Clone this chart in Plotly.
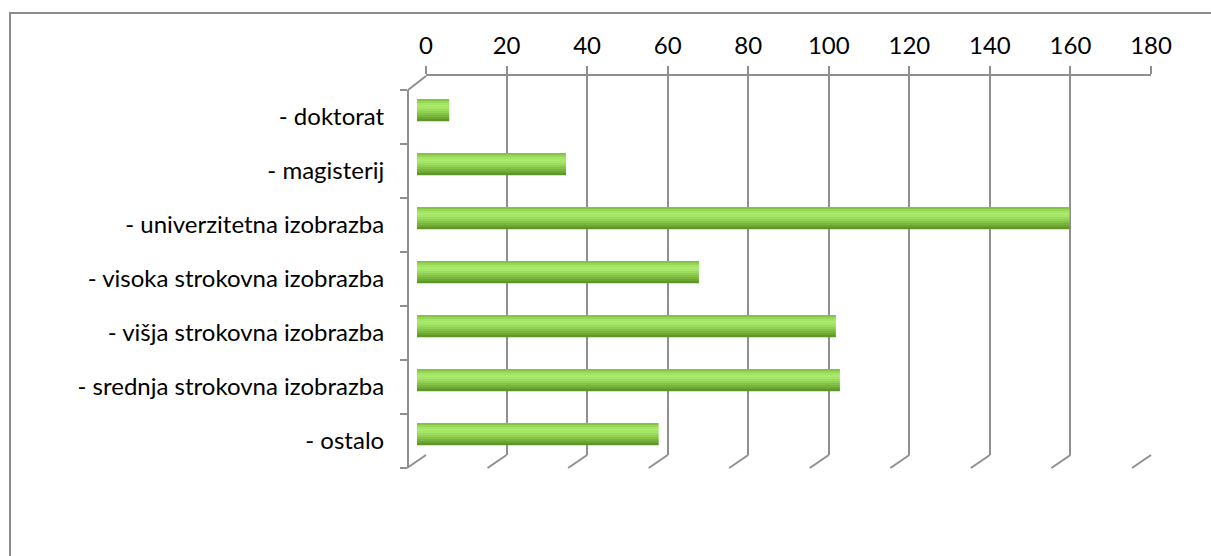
import plotly.graph_objects as go

W, H = 1211, 556

categories = ["- doktorat", "- magisterij", "- univerzitetna izobrazba",
              "- visoka strokovna izobrazba", "- višja strokovna izobrazba",
              "- srednja strokovna izobrazba", "- ostalo"]
values = [8, 37, 162, 70, 104, 105, 60]
tick_values = [0, 20, 40, 60, 80, 100, 120, 140, 160, 180]
tick_labels = [str(v) for v in tick_values]

FONT = "Lato"
GRID = "#8f8f8f"
# vertical shading of the cylinder, top to bottom
shade = ["#84c444", "#96d756", "#a3e465", "#a9ea6c", "#a5e668", "#9bdc5e",
         "#90d052", "#85c347", "#7ab63d", "#6ea834", "#5f962b"]

def px(x):
    return x / W

def py(y):
    return 1 - y / H

pos = list(range(len(categories)))

fig = go.Figure()

bar_w = 0.41
slice_w = bar_w / len(shade)
for i, c in enumerate(shade):
    fig.add_trace(go.Bar(y=pos, x=values, orientation="h", xaxis="x2", yaxis="y3",
                         width=slice_w * 1.05, offset=-bar_w / 2 + i * slice_w,
                         marker=dict(color=c, line=dict(width=0)),
                         hoverinfo="x+y" if i == 3 else "skip", showlegend=False))
# dummy traces so that the grid axes and the label axis get drawn
fig.add_trace(go.Scatter(x=[None], y=[None], xaxis="x", yaxis="y2", showlegend=False,
                         hoverinfo="skip"))
fig.add_trace(go.Scatter(x=[None], y=[None], xaxis="x2", yaxis="y", showlegend=False,
                         hoverinfo="skip"))

shapes = []
shapes.append(dict(type="rect", xref="paper", yref="paper",
                   x0=px(10), y0=py(13), x1=1.2, y1=-0.2,
                   line=dict(color="#8c8c8c", width=2), layer="below"))
shapes.append(dict(type="line", xref="paper", yref="paper",
                   x0=px(408), y0=py(90), x1=px(426), y1=py(76),
                   line=dict(color=GRID, width=2)))
for v in tick_values:
    xb = 426 + v * (1151 - 426) / 180
    shapes.append(dict(type="line", xref="paper", yref="paper",
                       x0=px(xb), y0=py(455), x1=px(xb - 19), y1=py(468),
                       line=dict(color=GRID, width=2)))

fig.update_layout(
    template="none",
    width=W, height=H,
    margin=dict(l=0, r=0, t=0, b=0, autoexpand=False),
    paper_bgcolor="white", plot_bgcolor="rgba(0,0,0,0)",
    barmode="overlay",
    font=dict(family=FONT, size=24, color="#000000"),
    shapes=shapes,
    xaxis=dict(domain=[px(426), px(1151)], range=[0, 180], side="top", anchor="y2",
               tickvals=tick_values, ticktext=tick_labels, automargin=False,
               showgrid=True, gridcolor=GRID, gridwidth=2,
               ticks="outside", ticklen=8, tickwidth=2, tickcolor=GRID,
               showline=True, linecolor=GRID, linewidth=2,
               zeroline=False, tickfont=dict(family=FONT, size=24),
               ticklabelstandoff=2, fixedrange=True),
    yaxis2=dict(domain=[py(455), py(76)], range=[0, 1], visible=False, anchor="x",
                automargin=False, fixedrange=True),
    xaxis2=dict(domain=[px(417), px(417 + 725)], range=[0, 180],
                visible=False, anchor="y3", automargin=False, fixedrange=True),
    yaxis3=dict(domain=[py(461), py(83)], range=[6.5, -0.5], visible=False,
                anchor="x2", automargin=False, fixedrange=True),
    yaxis=dict(domain=[py(468), py(90)], range=[6.5, -0.5], anchor="free",
               position=px(408), tickvals=pos, ticktext=categories,
               ticks="", showgrid=False, zeroline=False, automargin=False,
               showline=True, linecolor=GRID, linewidth=2,
               minor=dict(tickvals=[p - 0.5 for p in pos] + [6.5], ticks="outside",
                          ticklen=7, tickwidth=2, tickcolor=GRID, showgrid=False),
               tickfont=dict(family=FONT, size=24), ticklabelstandoff=18,
               fixedrange=True),
)

fig.write_html("out.html")
